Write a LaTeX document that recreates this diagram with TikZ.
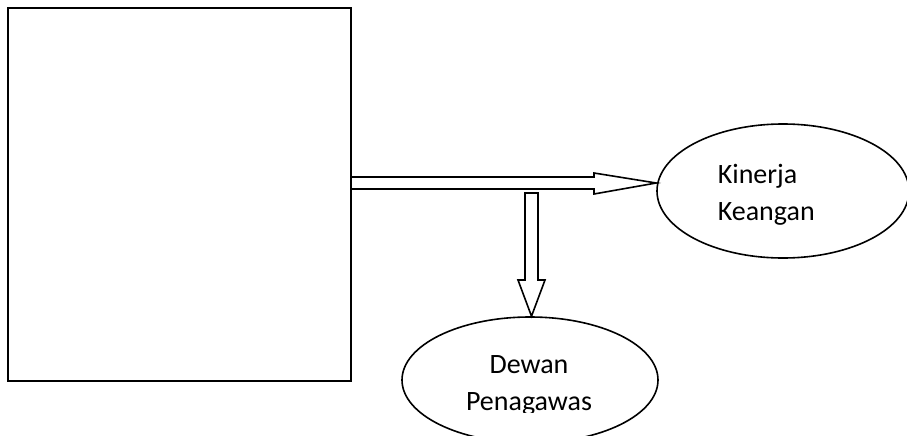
\documentclass[tikz,border=0pt]{standalone}
\usepackage{fontspec}
\setmainfont{Carlito}
\usetikzlibrary{shapes.geometric}
\begin{document}
\begin{tikzpicture}[x=1pt,y=-1pt,line width=1.6pt,
  lbl/.style={font=\fontsize{28}{37}\selectfont,inner sep=0pt},
  blockarrow/.style={draw,line join=miter}]
\useasboundingbox (0,0) rectangle (907,436);
\node[draw,minimum width=343,minimum height=373,inner sep=0pt] (box) at (179.5,194.5) {};
\node[draw,ellipse,minimum width=252,minimum height=134,inner sep=0pt] (kin) at (783,191) {};
\node[draw,ellipse,minimum width=256,minimum height=126,inner sep=0pt] (dew) at (530,380) {};
% horizontal block arrow
\coordinate (hs) at (box.east |- 0,183);
\coordinate (ht) at (kin.west |- 0,183);
\draw[blockarrow] (hs |- 0,177) -- (594,177) -- (594,173) -- (ht) -- (594,194) -- (594,189) -- (hs |- 0,189);
% vertical block arrow
\coordinate (vs) at (531.5,193);
\coordinate (vt) at (vs |- dew.north);
\draw[blockarrow] (525,193) -- (525,280) -- (518,280) -- (vt) -- (545,280) -- (538,280) -- (538,193) -- cycle;
% texts
\node[lbl,align=left,anchor=base west] (kt) at (717,220) {Kinerja\\Keangan};
\begin{scope}
\clip (0,0) rectangle (907,412);
\node[lbl,align=center,anchor=base] (dt) at (529,410) {Dewan\\Penagawas};
\end{scope}
\end{tikzpicture}
\end{document}
